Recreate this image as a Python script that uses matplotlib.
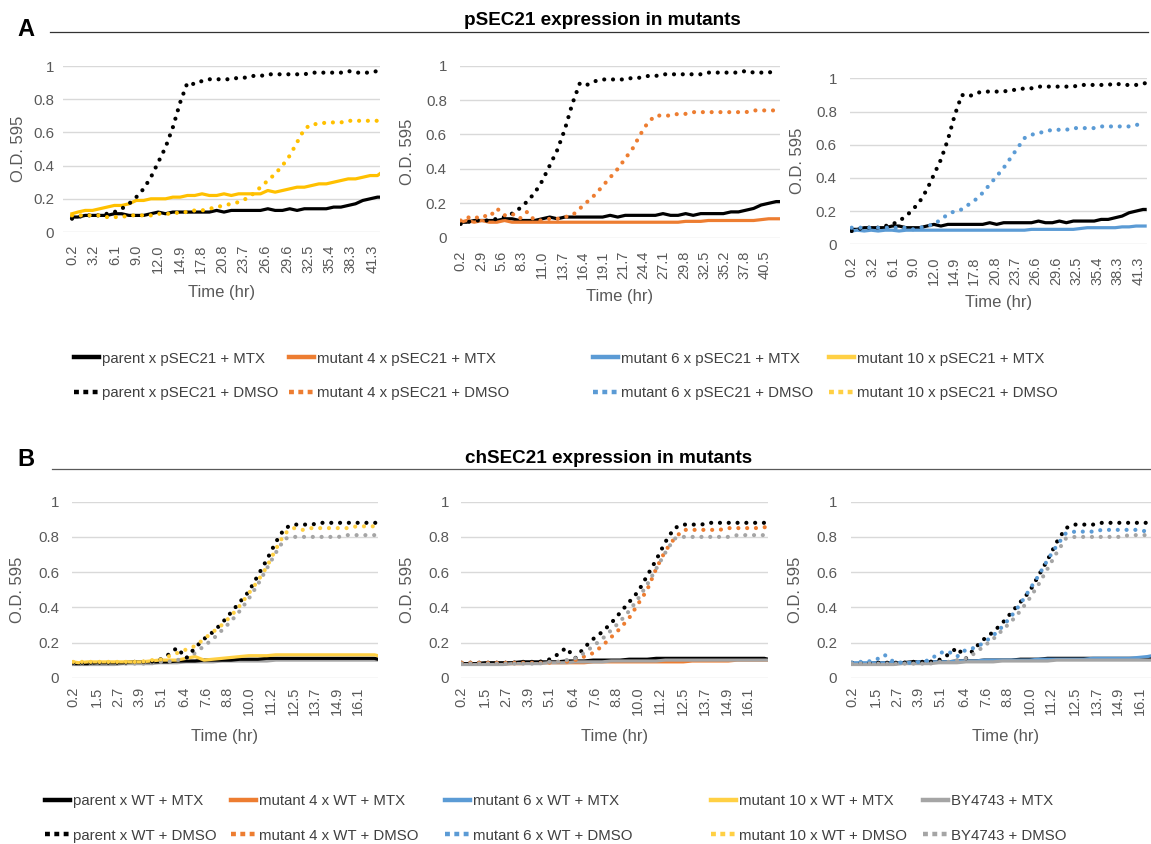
import matplotlib.pyplot as plt
from matplotlib.lines import Line2D

plt.rcParams['font.family'] = ['Liberation Sans', 'DejaVu Sans']

# Excel palette
BLACK = '#000000'
ORANGE = '#ED7D31'
BLUE = '#5B9BD5'
GOLD_A = '#FFC000'
GOLD_B = '#FFD044'
GREY = '#A5A5A5'

# ---------------- panel A : pSEC21 ----------------
time_a = [0.2, 1, 2, 3, 4, 5, 6, 7, 8, 9,
          10, 11, 12, 13, 14, 15, 16, 17, 18, 19,
          20, 21, 22, 23, 24, 25, 26, 27, 28, 29,
          30, 31, 32, 33, 34, 35, 36, 37, 38, 39,
          40, 41, 42, 42.3]

parent_mtx_a = [0.09, 0.09, 0.10, 0.10, 0.10, 0.10, 0.11, 0.11, 0.10, 0.10,
                0.10, 0.11, 0.12, 0.11, 0.12, 0.12, 0.12, 0.12, 0.12, 0.12,
                0.13, 0.12, 0.13, 0.13, 0.13, 0.13, 0.13, 0.14, 0.13, 0.13,
                0.14, 0.13, 0.14, 0.14, 0.14, 0.14, 0.15, 0.15, 0.16, 0.17,
                0.19, 0.20, 0.21, 0.21]
parent_dmso_a = [0.08, 0.09, 0.10, 0.10, 0.10, 0.11, 0.12, 0.14, 0.17, 0.21,
                 0.26, 0.33, 0.42, 0.51, 0.63, 0.78, 0.90, 0.89, 0.91, 0.92,
                 0.92, 0.92, 0.92, 0.93, 0.93, 0.94, 0.94, 0.95, 0.95, 0.95,
                 0.95, 0.95, 0.95, 0.96, 0.96, 0.96, 0.96, 0.96, 0.97, 0.96,
                 0.96, 0.96, 0.97, 0.97]
mut4_mtx_a = [0.09, 0.10, 0.09, 0.10, 0.09, 0.09, 0.10, 0.09, 0.09, 0.09,
              0.09, 0.09, 0.09, 0.09, 0.09, 0.09, 0.09, 0.09, 0.09, 0.09,
              0.09, 0.09, 0.09, 0.09, 0.09, 0.09, 0.09, 0.09, 0.09, 0.09,
              0.095, 0.095, 0.095, 0.10, 0.10, 0.10, 0.10, 0.10, 0.10, 0.10,
              0.105, 0.11, 0.11, 0.11]
mut4_dmso_a = [0.10, 0.12, 0.11, 0.13, 0.12, 0.17, 0.13, 0.14, 0.11, 0.15,
               0.10, 0.10, 0.11, 0.11, 0.12, 0.13, 0.17, 0.21, 0.25, 0.30,
               0.35, 0.40, 0.46, 0.52, 0.60, 0.67, 0.71, 0.71, 0.71, 0.72,
               0.72, 0.73, 0.73, 0.73, 0.73, 0.73, 0.73, 0.73, 0.73, 0.74,
               0.74, 0.74, 0.74, 0.74]
mut6_mtx_a = [0.08, 0.085, 0.08, 0.085, 0.08, 0.085, 0.085, 0.08, 0.085, 0.085,
              0.085, 0.085, 0.085, 0.085, 0.085, 0.085, 0.085, 0.085, 0.085, 0.085,
              0.085, 0.085, 0.085, 0.085, 0.085, 0.085, 0.09, 0.09, 0.09, 0.09,
              0.09, 0.09, 0.09, 0.095, 0.10, 0.10, 0.10, 0.10, 0.10, 0.105,
              0.105, 0.11, 0.11, 0.11]
mut6_dmso_a = [0.10, 0.10, 0.10, 0.10, 0.10, 0.10, 0.10, 0.10, 0.10, 0.09,
               0.10, 0.11, 0.12, 0.15, 0.18, 0.20, 0.21, 0.24, 0.27, 0.31,
               0.36, 0.41, 0.46, 0.52, 0.58, 0.64, 0.66, 0.67, 0.68, 0.69,
               0.69, 0.69, 0.70, 0.70, 0.70, 0.70, 0.71, 0.71, 0.71, 0.71,
               0.71, 0.72, 0.72, 0.72]
mut10_mtx_a = [0.11, 0.12, 0.13, 0.13, 0.14, 0.15, 0.16, 0.16, 0.17, 0.19,
               0.19, 0.20, 0.20, 0.20, 0.21, 0.21, 0.22, 0.22, 0.23, 0.22,
               0.22, 0.23, 0.22, 0.23, 0.23, 0.23, 0.23, 0.25, 0.24, 0.25,
               0.26, 0.27, 0.27, 0.28, 0.29, 0.29, 0.30, 0.31, 0.32, 0.32,
               0.33, 0.34, 0.34, 0.35]
mut10_dmso_a = [0.10, 0.10, 0.10, 0.10, 0.10, 0.09, 0.09, 0.09, 0.10, 0.10,
                0.10, 0.10, 0.11, 0.11, 0.11, 0.12, 0.12, 0.13, 0.13, 0.14,
                0.15, 0.16, 0.17, 0.18, 0.20, 0.23, 0.27, 0.31, 0.35, 0.40,
                0.46, 0.54, 0.62, 0.65, 0.65, 0.66, 0.66, 0.66, 0.67, 0.67,
                0.67, 0.67, 0.67, 0.67]

ticks_a_wide = ['0.2', '3.2', '6.1', '9.0', '12.0', '14.9', '17.8', '20.8',
                '23.7', '26.6', '29.6', '32.5', '35.4', '38.3', '41.3']
ticks_a_mid = ['0.2', '2.9', '5.6', '8.3', '11.0', '13.7', '16.4', '19.1',
               '21.7', '24.4', '27.1', '29.8', '32.5', '35.2', '37.8', '40.5']

# ---------------- panel B : chSEC21 ----------------
time_b = [0.2, 0.5, 1.0, 1.5, 2.0, 2.5, 3.0, 3.5, 4.0, 4.5,
          5.0, 5.5, 6.0, 6.5, 7.0, 7.5, 8.0, 8.5, 9.0, 9.5,
          10.0, 10.5, 11.0, 11.5, 12.0, 12.5, 13.0, 13.5, 14.0, 14.5,
          15.0, 15.5, 16.0, 16.5, 17.0, 17.2]

parent_mtx_b = [0.08, 0.08, 0.08, 0.085, 0.085, 0.085, 0.085, 0.09, 0.09, 0.09,
                0.09, 0.09, 0.095, 0.095, 0.095, 0.10, 0.10, 0.10, 0.10, 0.105,
                0.105, 0.105, 0.11, 0.11, 0.11, 0.11, 0.11, 0.11, 0.11, 0.11,
                0.11, 0.11, 0.11, 0.11, 0.11, 0.105]
parent_dmso_b = [0.085, 0.085, 0.085, 0.085, 0.085, 0.085, 0.085, 0.09, 0.09, 0.09,
                 0.10, 0.13, 0.17, 0.11, 0.17, 0.22, 0.26, 0.31, 0.37, 0.43,
                 0.49, 0.58, 0.67, 0.77, 0.85, 0.87, 0.87, 0.87, 0.88, 0.88,
                 0.88, 0.88, 0.88, 0.88, 0.88, 0.88]
mut4_mtx_b = [0.08, 0.08, 0.08, 0.08, 0.08, 0.08, 0.08, 0.08, 0.085, 0.085,
              0.085, 0.085, 0.085, 0.085, 0.085, 0.09, 0.09, 0.09, 0.09, 0.09,
              0.09, 0.09, 0.09, 0.09, 0.09, 0.09, 0.095, 0.095, 0.095, 0.095,
              0.095, 0.10, 0.10, 0.10, 0.10, 0.10]
mut4_dmso_b = [0.085, 0.085, 0.085, 0.085, 0.085, 0.085, 0.085, 0.085, 0.085, 0.085,
               0.085, 0.09, 0.09, 0.10, 0.12, 0.14, 0.18, 0.23, 0.28, 0.34,
               0.42, 0.50, 0.62, 0.72, 0.79, 0.84, 0.84, 0.84, 0.84, 0.84,
               0.85, 0.85, 0.85, 0.85, 0.855, 0.855]
mut6_mtx_b = [0.085, 0.085, 0.085, 0.085, 0.085, 0.085, 0.085, 0.085, 0.09, 0.09,
              0.09, 0.09, 0.095, 0.095, 0.095, 0.10, 0.10, 0.10, 0.10, 0.10,
              0.10, 0.105, 0.105, 0.105, 0.105, 0.105, 0.105, 0.11, 0.11, 0.11,
              0.11, 0.11, 0.115, 0.12, 0.13, 0.135]
mut6_dmso_b = [0.085, 0.09, 0.09, 0.10, 0.13, 0.09, 0.085, 0.085, 0.09, 0.10,
               0.14, 0.15, 0.12, 0.16, 0.17, 0.20, 0.24, 0.29, 0.35, 0.42,
               0.50, 0.58, 0.67, 0.75, 0.82, 0.83, 0.83, 0.83, 0.84, 0.84,
               0.84, 0.84, 0.84, 0.83, 0.83, 0.83]
mut10_mtx_b = [0.09, 0.085, 0.09, 0.09, 0.09, 0.09, 0.09, 0.09, 0.09, 0.095,
               0.10, 0.10, 0.10, 0.11, 0.12, 0.10, 0.105, 0.11, 0.115, 0.12,
               0.125, 0.125, 0.125, 0.13, 0.13, 0.13, 0.13, 0.13, 0.13, 0.13,
               0.13, 0.13, 0.13, 0.13, 0.13, 0.125]
mut10_dmso_b = [0.09, 0.09, 0.09, 0.09, 0.09, 0.09, 0.09, 0.09, 0.09, 0.10,
                0.10, 0.12, 0.14, 0.16, 0.18, 0.22, 0.26, 0.30, 0.35, 0.41,
                0.48, 0.55, 0.63, 0.73, 0.82, 0.85, 0.84, 0.85, 0.85, 0.85,
                0.85, 0.85, 0.86, 0.86, 0.86, 0.86]
by_mtx_b = [0.075, 0.075, 0.075, 0.075, 0.075, 0.075, 0.08, 0.08, 0.08, 0.08,
            0.085, 0.085, 0.085, 0.09, 0.09, 0.09, 0.09, 0.095, 0.095, 0.095,
            0.095, 0.095, 0.095, 0.10, 0.10, 0.10, 0.10, 0.10, 0.10, 0.10,
            0.10, 0.10, 0.10, 0.10, 0.10, 0.10]
by_dmso_b = [0.08, 0.08, 0.08, 0.08, 0.08, 0.08, 0.08, 0.08, 0.08, 0.08,
             0.09, 0.09, 0.10, 0.11, 0.14, 0.18, 0.22, 0.27, 0.32, 0.38,
             0.45, 0.53, 0.62, 0.71, 0.79, 0.80, 0.80, 0.80, 0.80, 0.80,
             0.80, 0.81, 0.81, 0.81, 0.81, 0.81]

ticks_b = ['0.2', '1.5', '2.7', '3.9', '5.1', '6.4', '7.6', '8.8', '10.0',
           '11.2', '12.5', '13.7', '14.9', '16.1']

y_ticks = [0, 0.2, 0.4, 0.6, 0.8, 1]
y_labels = ['0', '0.2', '0.4', '0.6', '0.8', '1']

# ---------------- figure ----------------
W, H = 1151, 844
fig = plt.figure(figsize=(W / 100, H / 100), dpi=100)

TICK_C = '#595959'
DOTS = (0, (0.01, 2.1))


def make_axes(left, right, top, bottom, xlim, tick_labels, ypad, xpad, ylab_dx, xlab_dy):
    ax = fig.add_axes([left / W, 1 - bottom / H, (right - left) / W, (bottom - top) / H])
    ax.set_xlim(*xlim)
    ax.set_ylim(0, 1)
    ax.set_xticks([float(s) for s in tick_labels])
    ax.set_xticklabels(tick_labels, rotation=90)
    ax.set_yticks(y_ticks)
    ax.set_yticklabels(y_labels)
    ax.tick_params(axis='x', length=0, pad=xpad, labelsize=10.5, labelcolor=TICK_C)
    ax.tick_params(axis='y', length=0, pad=ypad, labelsize=10.8, labelcolor=TICK_C)
    for s in ax.spines.values():
        s.set_visible(False)
    ax.grid(axis='y', color='#D9D9D9', lw=1.0)
    ax.set_axisbelow(True)
    ax.set_ylabel('O.D. 595', fontsize=12, color=TICK_C)
    ax.yaxis.label.set_verticalalignment('center')
    ax.yaxis.set_label_coords(-ylab_dx / (right - left), 0.5)
    ax.set_xlabel('Time (hr)', fontsize=12, color=TICK_C)
    ax.xaxis.label.set_verticalalignment('center')
    ax.xaxis.set_label_coords(0.5, -xlab_dy / (bottom - top))
    return ax


def solid(ax, t, v, c):
    ax.plot(t, v, color=c, lw=2.3, solid_joinstyle='round')


def dotted(ax, t, v, c):
    ax.plot(t, v, color=c, lw=3.0, linestyle=DOTS, dash_capstyle='round')


# panel A
a1 = make_axes(63, 380, 66, 232, (-1.03, 42.35), ticks_a_wide, 6.5, 9, 45, 60)
solid(a1, time_a, parent_mtx_a, BLACK)
solid(a1, time_a, mut10_mtx_a, GOLD_A)
dotted(a1, time_a, parent_dmso_a, BLACK)
dotted(a1, time_a, mut10_dmso_a, GOLD_A)

a2 = make_axes(460, 780, 65.7, 237.7, (0.11, 42.5), ticks_a_mid, 9.5, 9.5, 52, 59)
solid(a2, time_a, parent_mtx_a, BLACK)
solid(a2, time_a, mut4_mtx_a, ORANGE)
dotted(a2, time_a, parent_dmso_a, BLACK)
dotted(a2, time_a, mut4_dmso_a, ORANGE)

a3 = make_axes(850, 1147, 78.3, 244.3, (-0.04, 42.57), ticks_a_wide, 9.5, 9, 53, 58)
solid(a3, time_a, parent_mtx_a, BLACK)
solid(a3, time_a, mut6_mtx_a, BLUE)
dotted(a3, time_a, parent_dmso_a, BLACK)
dotted(a3, time_a, mut6_dmso_a, BLUE)

# panel B
b1 = make_axes(71.7, 378, 501.7, 677.7, (0.12, 17.2), ticks_b, 9, 6.5, 54, 59)
solid(b1, time_b, by_mtx_b, GREY)
solid(b1, time_b, parent_mtx_b, BLACK)
solid(b1, time_b, mut10_mtx_b, GOLD_B)
dotted(b1, time_b, by_dmso_b, GREY)
dotted(b1, time_b, parent_dmso_b, BLACK)
dotted(b1, time_b, mut10_dmso_b, GOLD_B)

b2 = make_axes(460.7, 768, 501.7, 677.7, (0.15, 17.2), ticks_b, 8.5, 6.5, 53, 59)
solid(b2, time_b, mut4_mtx_b, ORANGE)
solid(b2, time_b, parent_mtx_b, BLACK)
solid(b2, time_b, by_mtx_b, GREY)
dotted(b2, time_b, parent_dmso_b, BLACK)
dotted(b2, time_b, mut4_dmso_b, ORANGE)
dotted(b2, time_b, by_dmso_b, GREY)

b3 = make_axes(851, 1160, 501.7, 677.7, (0.15, 17.2), ticks_b, 10, 6.5, 55, 59)
solid(b3, time_b, parent_mtx_b, BLACK)
solid(b3, time_b, mut6_mtx_b, BLUE)
solid(b3, time_b, by_mtx_b, GREY)
dotted(b3, time_b, parent_dmso_b, BLACK)
dotted(b3, time_b, mut6_dmso_b, BLUE)
dotted(b3, time_b, by_dmso_b, GREY)

# panel headers
fig.text(25.8 / W, 1 - 36.5 / H, 'A', fontsize=17, fontweight='bold', ha='center', va='baseline')
fig.text(26 / W, 1 - 466.5 / H, 'B', fontsize=17, fontweight='bold', ha='center', va='baseline')
fig.text(602 / W, 1 - 25 / H, 'pSEC21 expression in mutants', fontsize=13.6,
         fontweight='bold', ha='center', va='baseline')
fig.text(609 / W, 1 - 463.3 / H, 'chSEC21 expression in mutants', fontsize=13.6,
         fontweight='bold', ha='center', va='baseline')
fig.add_artist(Line2D([50 / W, 1148 / W], [1 - 32.3 / H] * 2, color='#333333', lw=0.9))
fig.add_artist(Line2D([52 / W, 1151 / W], [1 - 469.3 / H] * 2, color='#595959', lw=0.9))


def legend_column(x_px, y_px, color, lab_mtx, lab_dmso):
    h_mtx = Line2D([], [], color=color, lw=3.2)
    h_dmso = Line2D([], [], color=color, lw=3.2, linestyle=(0, (1.1, 1.0)))
    fig.legend([h_mtx, h_dmso], [lab_mtx, lab_dmso], loc='center left',
               bbox_to_anchor=(x_px / W, 1 - y_px / H), frameon=False, fontsize=10.8,
               handlelength=1.67, handletextpad=0.2, labelspacing=1.37,
               borderpad=0, borderaxespad=0, labelcolor='#404040')


legend_column(74, 376, BLACK, 'parent x pSEC21 + MTX', 'parent x pSEC21 + DMSO')
legend_column(289, 376, ORANGE, 'mutant 4 x pSEC21 + MTX', 'mutant 4 x pSEC21 + DMSO')
legend_column(593, 376, BLUE, 'mutant 6 x pSEC21 + MTX', 'mutant 6 x pSEC21 + DMSO')
legend_column(829, 376, GOLD_B, 'mutant 10 x pSEC21 + MTX', 'mutant 10 x pSEC21 + DMSO')

legend_column(45, 818.3, BLACK, 'parent x WT + MTX', 'parent x WT + DMSO')
legend_column(231, 818.3, ORANGE, 'mutant 4 x WT + MTX', 'mutant 4 x WT + DMSO')
legend_column(445, 818.3, BLUE, 'mutant 6 x WT + MTX', 'mutant 6 x WT + DMSO')
legend_column(711, 818.3, GOLD_B, 'mutant 10 x WT + MTX', 'mutant 10 x WT + DMSO')
legend_column(923, 818.3, GREY, 'BY4743 + MTX', 'BY4743 + DMSO')

fig.savefig('out.png', dpi=100)
